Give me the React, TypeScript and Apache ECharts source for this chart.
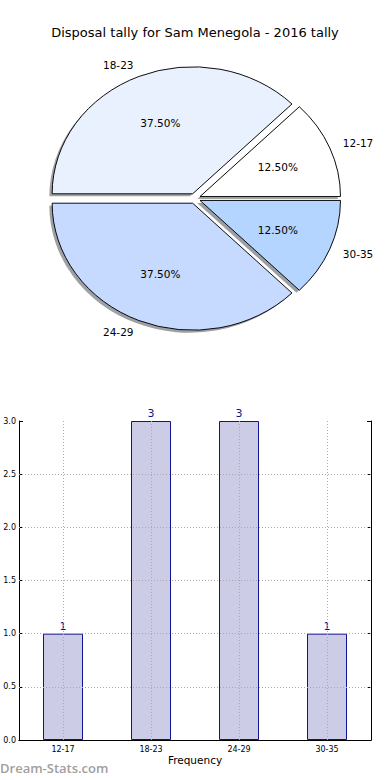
import React, { useEffect, useRef } from 'react';
import * as echarts from 'echarts';

const titleText = 'Disposal tally for Sam Menegola - 2016 tally';
const categories = ['12-17', '18-23', '24-29', '30-35'];
const counts = [1, 3, 3, 1];
const pieColors = ['#ffffff', '#eaf1fe', '#c6d9fe', '#b4d5ff'];
const yTicks = [0, 0.5, 1, 1.5, 2, 2.5, 3];
const xAxisName = 'Frequency';
const watermark = 'Dream-Stats.com';

const FONT = '"DejaVu Sans", sans-serif';

function shadowOf(hex: string): string {
  const n = parseInt(hex.slice(1), 16);
  const r = Math.round(((n >> 16) & 255) * 0.3);
  const g = Math.round(((n >> 8) & 255) * 0.3);
  const b = Math.round((n & 255) * 0.3);
  return `rgba(${r},${g},${b},0.5)`;
}

export default function App() {
  const ref = useRef<HTMLDivElement>(null);
  useEffect(() => {
    const chart = echarts.init(ref.current!, null, { renderer: 'svg' });
    const total = counts.reduce((a, b) => a + b, 0);
    const cum: number[] = [];
    let acc = 0;
    counts.forEach((c) => {
      cum.push(acc);
      acc += c;
    });
    const CX = 194.8, CY = 198.5, RX = 140.5, RY = 127, EXP = 0.04;
    const SY = RY / RX;

    const renderPie = (params: any, api: any) => {
      const i = params.dataIndex;
      const v = api.value(0);
      const t1 = (cum[i] / total) * 2 * Math.PI;
      const t2 = t1 + (v / total) * 2 * Math.PI;
      const mid = (t1 + t2) / 2;
      const c = Math.cos(mid), s = Math.sin(mid);
      const ox = CX + EXP * RX * c;
      const oy = CY - EXP * RY * s;
      const shape = { cx: 0, cy: 0, r0: 0, r: RX, startAngle: -t2, endAngle: -t1, clockwise: true };
      const lx = 1.1 * RX * c;
      const ly = -1.1 * RY * s;
      return {
        type: 'group',
        x: ox,
        y: oy,
        children: [
          {
            type: 'group',
            x: -0.02 * RX,
            y: 0.02 * RY,
            scaleY: SY,
            children: [{ type: 'sector', z2: 0, shape, style: { fill: shadowOf(pieColors[i]) } }],
          },
          {
            type: 'group',
            scaleY: SY,
            children: [
              {
                type: 'sector',
                z2: 5,
                shape,
                style: { fill: pieColors[i], stroke: '#000', lineWidth: 1, strokeNoScale: true },
              },
            ],
          },
          {
            type: 'text',
            z2: 10,
            x: 0.6 * RX * c,
            y: -0.6 * RY * s,
            style: {
              text: ((v / total) * 100).toFixed(2) + '%',
              align: 'center',
              verticalAlign: 'middle',
              fill: '#000',
              fontSize: 10.5,
              fontFamily: FONT,
            },
          },
          {
            type: 'text',
            z2: 10,
            x: lx,
            y: ly,
            style: {
              text: categories[i],
              align: lx > 0 ? 'left' : 'right',
              verticalAlign: 'middle',
              fill: '#000',
              fontSize: 10.5,
              fontFamily: FONT,
            },
          },
        ],
      };
    };

    const gridLine = { type: [1, 2] as any, color: '#aaaaaa', width: 1 };

    chart.setOption({
      animation: false,
      backgroundColor: '#ffffff',
      textStyle: { fontFamily: FONT },
      title: {
        text: titleText,
        left: 'center',
        top: 21,
        textStyle: { fontSize: 13, fontWeight: 'normal', color: '#000', fontFamily: FONT },
      },
      graphic: [
        {
          type: 'text',
          left: 0,
          top: 761,
          style: {
            text: watermark,
            fill: '#a0a0a0',
            fontSize: 13,
            fontWeight: 600,
            fontFamily: '"Open Sans", sans-serif',
          },
        },
      ],
      grid: { left: 19, right: 19, top: 421, bottom: 40, containLabel: false },
      xAxis: [
        {
          type: 'category',
          data: categories,
          position: 'bottom',
          axisLine: { lineStyle: { color: '#000', width: 1 } },
          axisTick: { inside: true, alignWithLabel: true, length: 4, lineStyle: { color: '#000' } },
          axisLabel: { fontSize: 8, color: '#000', margin: 5, fontFamily: FONT },
          splitLine: { show: false },
          name: xAxisName,
          nameLocation: 'middle',
          nameGap: 14,
          nameTextStyle: { fontSize: 10.5, color: '#000', fontFamily: FONT },
        },
        {
          type: 'category',
          data: categories,
          position: 'top',
          axisLine: { lineStyle: { color: '#000', width: 1 } },
          axisTick: { inside: true, alignWithLabel: true, length: 4, lineStyle: { color: '#000' } },
          axisLabel: { show: false },
          splitLine: { show: false },
        },
      ],
      yAxis: [
        {
          type: 'value',
          min: 0,
          max: 3,
          interval: 0.5,
          position: 'left',
          axisLine: { show: true, lineStyle: { color: '#000', width: 1 } },
          axisTick: { show: true, inside: true, length: 4, lineStyle: { color: '#000' } },
          axisLabel: {
            fontSize: 8,
            color: '#000',
            margin: 3,
            fontFamily: FONT,
            formatter: (v: number) => v.toFixed(1),
          },
          splitLine: { show: false },
        },
        {
          type: 'value',
          min: 0,
          max: 3,
          interval: 0.5,
          position: 'right',
          axisLine: { show: true, lineStyle: { color: '#000', width: 1 } },
          axisTick: { show: true, inside: true, length: 4, lineStyle: { color: '#000' } },
          axisLabel: { show: false },
          splitLine: { show: false },
        },
      ],
      series: [
        {
          type: 'custom',
          coordinateSystem: 'none',
          renderItem: renderPie,
          data: counts.map((v, i) => ({ name: categories[i], value: v })),
          silent: true,
        },
        {
          type: 'bar',
          xAxisIndex: 0,
          yAxisIndex: 0,
          data: counts,
          barWidth: 40,
          itemStyle: { color: '#cccce6', borderColor: '#12128e', borderWidth: 1 },
          label: {
            show: true,
            position: 'top',
            distance: 2,
            color: '#12128e',
            fontSize: 11,
            fontFamily: FONT,
          },
          markLine: {
            silent: true,
            symbol: 'none',
            label: { show: false },
            lineStyle: gridLine,
            data: [
              ...categories.map((c) => ({ xAxis: c })),
              ...yTicks.filter((t) => t > 0 && t < 3).map((t) => ({ yAxis: t })),
            ],
          },
        },
      ],
    });
    return () => chart.dispose();
  }, []);
  return <div ref={ref} style={{ position: 'absolute', left: 0, top: 0, width: 390, height: 780 }} />;
}
